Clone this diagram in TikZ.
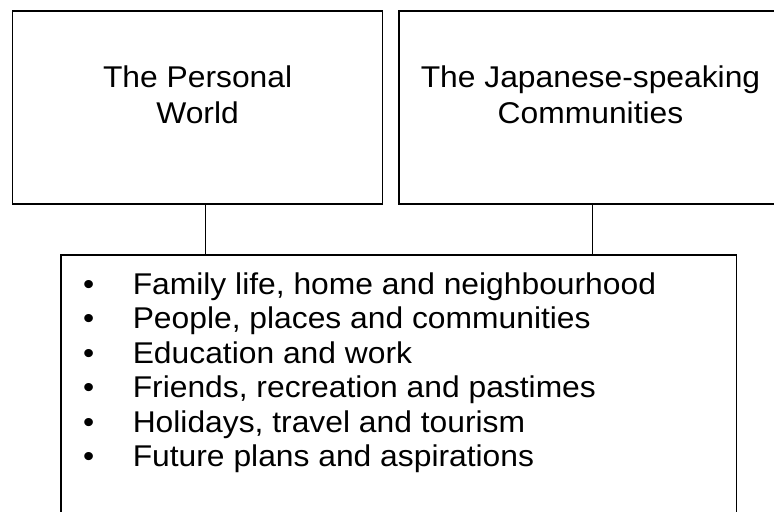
\documentclass[tikz,border=0pt]{standalone}
\usepackage{fontspec}
\setmainfont{Liberation Sans}[FakeStretch=1.06]
\begin{document}
\begin{tikzpicture}[x=1bp,y=-1bp,
  box/.style={draw=black, line width=1.5bp, rectangle, inner sep=0pt},
  titletext/.style={align=center, inner sep=0pt, anchor=north,
    font=\fontsize{30bp}{36.6bp}\selectfont},
  listtext/.style={align=left, inner sep=0pt, anchor=north west,
    font=\fontsize{30bp}{34.4bp}\selectfont},
  link/.style={draw=black, line width=1.5bp}]
\useasboundingbox (0,0) rectangle (774,512);
\node[box, minimum width=370bp, minimum height=193bp] (b1) at (197.6,107.5) {};
\node[box, minimum width=391bp, minimum height=193bp] (b2) at (594.5,107.5) {};
\node[box, minimum width=675.7bp, minimum height=275bp] (list) at (398.85,392.5) {};
\node[titletext] (t1) at (197.6,65.2) {The Personal\\World};
\node[titletext] (t2) at (590.5,65.2) {The Japanese-speaking\\Communities};
\node[listtext] (items) at (83,272.6) {%
\makebox[49.6bp][l]{•}Family life, home and neighbourhood\\
\makebox[49.6bp][l]{•}People, places and communities\\
\makebox[49.6bp][l]{•}Education and work\\
\makebox[49.6bp][l]{•}Friends, recreation and pastimes\\
\makebox[49.6bp][l]{•}Holidays, travel and tourism\\
\makebox[49.6bp][l]{•}Future plans and aspirations};
\draw[link] ([xshift=7.7bp]b1.south) -- ([xshift=7.7bp]b1.south |- list.north);
\draw[link] ([xshift=-2.2bp]b2.south) -- ([xshift=-2.2bp]b2.south |- list.north);
\end{tikzpicture}
\end{document}
